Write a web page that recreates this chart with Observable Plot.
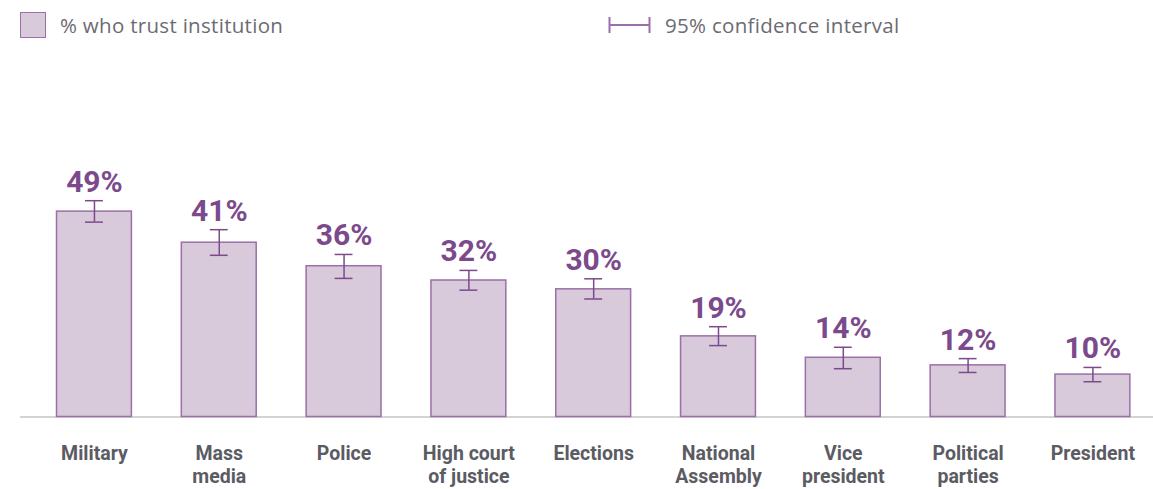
<!DOCTYPE html>
<html>
<head>
<meta charset="utf-8">
<script src="https://cdn.jsdelivr.net/npm/d3@7"></script>
<script src="https://cdn.jsdelivr.net/npm/@observablehq/plot@0.6"></script>
<style>
  html, body { margin: 0; padding: 0; background: #fff; }
  #wrap { width: 1153px; height: 489px; position: relative; overflow: hidden; }
  #legend { position: relative; height: 50px; font-family: "Open Sans", "Noto Sans", sans-serif; font-size: 20.5px; letter-spacing: 0.3px; color: #6b6b73; }
  .sw { position: absolute; left: 20px; top: 12px; width: 23.5px; height: 23.5px; background: #d8c9db; border: 1.5px solid #9b6fa8; }
  .lt1 { position: absolute; left: 60px; top: 11px; line-height: 28px; }
  .ci { position: absolute; left: 608px; top: 16px; }
  .lt2 { position: absolute; left: 665px; top: 11px; line-height: 28px; }
  #chart svg text { font-family: Roboto, sans-serif; }
</style>
</head>
<body>
<div id="wrap">
  <div id="legend">
    <div class="sw"></div>
    <div class="lt1">% who trust institution</div>
    <svg class="ci" width="44" height="18"><path d="M1.5,1V17M1.5,9H41.5M41.5,1V17" stroke="#9b6fa8" stroke-width="2" fill="none"/></svg>
    <div class="lt2">95% confidence interval</div>
  </div>
  <div id="chart"></div>
</div>
<script>
const categories = ["Military", "Mass\nmedia", "Police", "High court\nof justice", "Elections", "National\nAssembly", "Vice\npresident", "Political\nparties", "President"];
const trust = [48.9, 41.5, 35.9, 32.5, 30.4, 19.2, 14.1, 12.3, 10.1];
const ciLow = [46.4, 38.5, 33.0, 30.2, 28.1, 17.0, 11.5, 10.6, 8.4];
const ciHigh = [51.5, 44.6, 38.7, 34.9, 32.9, 21.5, 16.6, 13.9, 11.8];
const valueLabels = ["49%", "41%", "36%", "32%", "30%", "19%", "14%", "12%", "10%"];

const data = categories.map((c, i) => ({cat: c, v: trust[i], lo: ciLow[i], hi: ciHigh[i], label: valueLabels[i]}));

const purple = "#7c4a8c";
const font = "Roboto, sans-serif";
const chart = Plot.plot({
  width: 1153,
  height: 439,
  marginLeft: 20,
  marginRight: 0,
  marginTop: 114.5,
  marginBottom: 72.5,
  style: {fontFamily: font, background: "#fff"},
  x: {domain: categories, padding: 0.4, paddingOuter: 0.239, align: 0.612, round: false, label: null},
  y: {domain: [0, 60], axis: null},
  marks: [
    Plot.ruleY([0], {stroke: "#d3d3d3", strokeWidth: 2}),
    Plot.barY(data, {x: "cat", y: "v", fill: "#d8c9db", stroke: "#9b6fa8", strokeWidth: 1.5}),
    Plot.ruleX(data, {x: "cat", y1: "lo", y2: "hi", stroke: purple, strokeWidth: 1.5}),
    Plot.tickY(data, {x: "cat", y: "lo", stroke: purple, strokeWidth: 1.5, insetLeft: 28.5, insetRight: 28.5}),
    Plot.tickY(data, {x: "cat", y: "hi", stroke: purple, strokeWidth: 1.5, insetLeft: 28.5, insetRight: 28.5}),
    Plot.text(data, {x: "cat", y: "hi", text: "label", dy: -9, lineAnchor: "bottom", fill: purple, fontSize: 30, fontWeight: "bold", fontFamily: font}),
    Plot.axisX({tickSize: 0, tickPadding: 26, fontSize: 19.5, fontWeight: "bold", fontFamily: font, fill: "#5b5b63", lineHeight: 1.2, label: null})
  ]
});
document.getElementById("chart").appendChild(chart);
</script>
</body>
</html>
